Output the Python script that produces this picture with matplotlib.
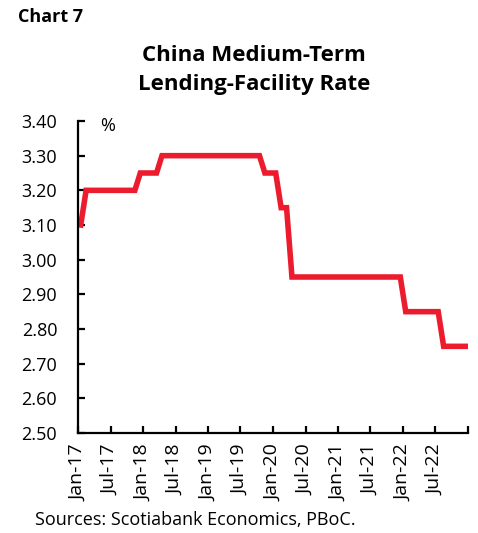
import numpy as np
import matplotlib.pyplot as plt

plt.rcParams['font.family'] = ['Open Sans', 'DejaVu Sans']

# monthly MLF rate, Jan-17 .. Dec-22
months = ['Jan-17', 'Feb-17', 'Mar-17', 'Apr-17', 'May-17', 'Jun-17',
          'Jul-17', 'Aug-17', 'Sep-17', 'Oct-17', 'Nov-17', 'Dec-17',
          'Jan-18', 'Feb-18', 'Mar-18', 'Apr-18', 'May-18', 'Jun-18',
          'Jul-18', 'Aug-18', 'Sep-18', 'Oct-18', 'Nov-18', 'Dec-18',
          'Jan-19', 'Feb-19', 'Mar-19', 'Apr-19', 'May-19', 'Jun-19',
          'Jul-19', 'Aug-19', 'Sep-19', 'Oct-19', 'Nov-19', 'Dec-19',
          'Jan-20', 'Feb-20', 'Mar-20', 'Apr-20', 'May-20', 'Jun-20',
          'Jul-20', 'Aug-20', 'Sep-20', 'Oct-20', 'Nov-20', 'Dec-20',
          'Jan-21', 'Feb-21', 'Mar-21', 'Apr-21', 'May-21', 'Jun-21',
          'Jul-21', 'Aug-21', 'Sep-21', 'Oct-21', 'Nov-21', 'Dec-21',
          'Jan-22', 'Feb-22', 'Mar-22', 'Apr-22', 'May-22', 'Jun-22',
          'Jul-22', 'Aug-22', 'Sep-22', 'Oct-22', 'Nov-22', 'Dec-22']
rate = [3.10, 3.20, 3.20, 3.20, 3.20, 3.20,
        3.20, 3.20, 3.20, 3.20, 3.20, 3.25,
        3.25, 3.25, 3.25, 3.30, 3.30, 3.30,
        3.30, 3.30, 3.30, 3.30, 3.30, 3.30,
        3.30, 3.30, 3.30, 3.30, 3.30, 3.30,
        3.30, 3.30, 3.30, 3.30, 3.25, 3.25,
        3.25, 3.15, 3.15, 2.95, 2.95, 2.95,
        2.95, 2.95, 2.95, 2.95, 2.95, 2.95,
        2.95, 2.95, 2.95, 2.95, 2.95, 2.95,
        2.95, 2.95, 2.95, 2.95, 2.95, 2.95,
        2.85, 2.85, 2.85, 2.85, 2.85, 2.85,
        2.85, 2.75, 2.75, 2.75, 2.75, 2.75]

yticks = [2.50, 2.60, 2.70, 2.80, 2.90, 3.00, 3.10, 3.20, 3.30, 3.40]

fig = plt.figure(figsize=(4.78, 5.33), dpi=100)
ax = fig.add_axes([78/478, 100/533, 390/478, 312/533])

x = np.arange(len(rate)) + 0.5   # points sit mid-month
ax.plot(x, rate, color='#EC1C2E', lw=4, solid_joinstyle='miter', solid_capstyle='projecting')

ax.set_xlim(0, len(months))
ax.set_ylim(2.5, 3.4)
ax.set_yticks(yticks)
ax.set_yticklabels([f'{v:.2f}' for v in yticks], fontsize=13)
tick_pos = list(range(0, len(months) + 1, 6))
ax.set_xticks(tick_pos)
ax.set_xticklabels([months[i] if i < len(months) else '' for i in tick_pos],
                   rotation=90, fontsize=14)

for s in ['top', 'right']:
    ax.spines[s].set_visible(False)
for s in ['left', 'bottom']:
    ax.spines[s].set_linewidth(1.6)
ax.tick_params(axis='both', direction='in', length=5, width=1.6)
ax.tick_params(axis='x', pad=8)
ax.tick_params(axis='y', pad=15)

ax.text(22/390, 3.385, '%', fontsize=13, transform=ax.get_yaxis_transform(), va='center')

fig.text(18/478, 1 - 17/533, 'Chart 7', fontsize=13, fontweight='bold', va='center')
fig.text(254/478, 1 - 70/533, 'China Medium-Term\nLending-Facility Rate', fontsize=16,
         fontweight='bold', ha='center', va='center', linespacing=1.5)
fig.text(35/478, 1 - 520/533, 'Sources: Scotiabank Economics, PBoC.', fontsize=13, va='center')

fig.savefig('out.png', dpi=100)
